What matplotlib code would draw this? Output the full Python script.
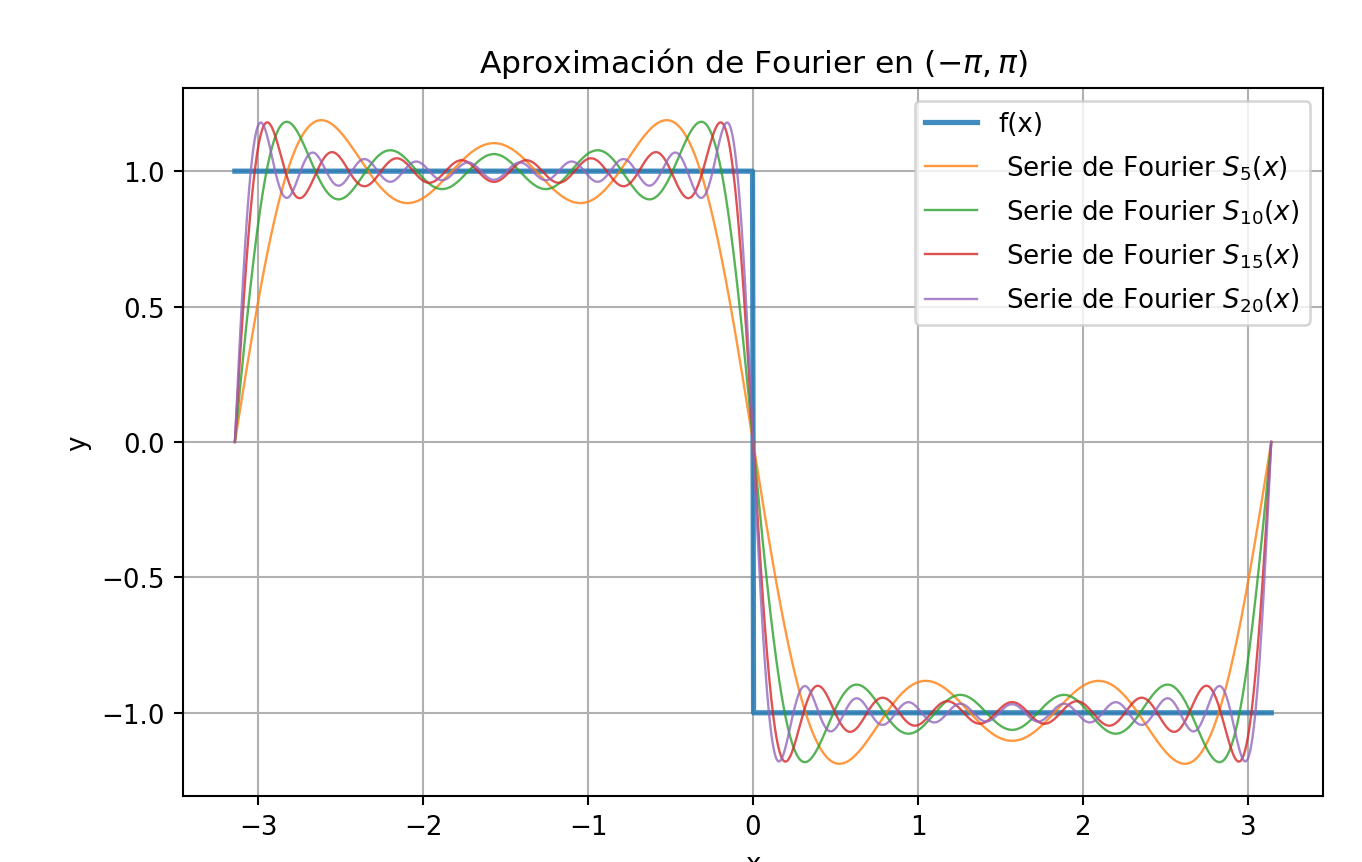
import numpy as np
import matplotlib
matplotlib.use("Agg")
import matplotlib.pyplot as plt

# partial-sum orders shown in the chart
ordenes = [5, 10, 15, 20]
colores = ["#ff7f0e", "#2ca02c", "#d62728", "#9467bd"]

x = np.linspace(-np.pi, np.pi, 1000)
f = np.where(x < 0, 1.0, -1.0)


def serie_fourier(x, N):
    s = np.zeros_like(x)
    for n in range(1, N + 1):
        bn = 2 * (np.cos(n * np.pi) - 1) / (n * np.pi)
        s += bn * np.sin(n * x)
    return s


dpi = 188
fig = plt.figure(figsize=(1362 / dpi, 863 / dpi), dpi=dpi)
ax = fig.add_axes([0.1344, 0.0765, 0.837, 0.8204])

ax.plot(x, f, color="#1f77b4", lw=2.0, alpha=0.85, label="f(x)")
for N, c in zip(ordenes, colores):
    ax.plot(x, serie_fourier(x, N), color=c, lw=0.9, alpha=0.8,
            label=f" Serie de Fourier $S_{{{N}}}(x)$")

ax.set_title(r"Aproximación de Fourier en $(-\pi, \pi)$")
ax.set_xlabel("x")
ax.set_ylabel("y")
ax.grid(True)
ax.legend(loc="upper right", labelspacing=0.6)

fig.savefig("out.png", dpi=dpi)
